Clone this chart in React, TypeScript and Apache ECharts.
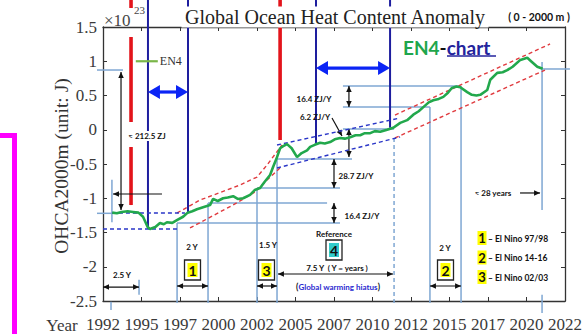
import { useEffect, useRef } from "react";
import * as echarts from "echarts";

// EN4 ocean heat content anomaly, 0–2000 m (units of 1e23 J)
const en4: [number, number][] = [
  [1993.1, -1.21], [1993.4, -1.22], [1993.7, -1.2], [1994.1, -1.19], [1994.45, -1.2], [1994.8, -1.21],
  [1995.1, -1.27], [1995.4, -1.42], [1995.55, -1.45], [1995.9, -1.42], [1996.2, -1.36], [1996.45, -1.38],
  [1996.65, -1.35], [1997.0, -1.36], [1997.3, -1.32], [1997.7, -1.27], [1998.0, -1.21], [1998.3, -1.19],
  [1998.6, -1.16], [1999.0, -1.13], [1999.45, -1.1], [1999.65, -1.01], [1999.95, -1.04], [2000.3, -1.0],
  [2000.6, -0.99], [2000.95, -0.97], [2001.25, -1.01], [2001.6, -1.0], [2002.05, -0.95], [2002.35, -0.88],
  [2002.7, -0.85], [2003.0, -0.76], [2003.35, -0.66], [2003.55, -0.54], [2003.8, -0.4], [2004.0, -0.27],
  [2004.2, -0.24], [2004.45, -0.21], [2004.75, -0.27], [2005.1, -0.4], [2005.4, -0.34], [2005.75, -0.3],
  [2005.95, -0.25], [2006.25, -0.22], [2006.6, -0.19], [2006.9, -0.2], [2007.25, -0.18], [2007.55, -0.14],
  [2007.9, -0.12], [2008.2, -0.13], [2008.55, -0.11], [2008.9, -0.08], [2009.2, -0.08], [2009.5, -0.05],
  [2009.85, -0.05], [2010.15, -0.02], [2010.5, -0.03], [2010.95, 0.0], [2011.35, 0.03], [2011.8, 0.1],
  [2012.25, 0.14], [2012.65, 0.22], [2013.0, 0.27], [2013.3, 0.33], [2013.65, 0.4], [2013.95, 0.43],
  [2014.3, 0.45], [2014.6, 0.48], [2014.9, 0.54], [2015.15, 0.61], [2015.45, 0.63], [2015.7, 0.62],
  [2016.15, 0.55], [2016.45, 0.51], [2016.75, 0.5], [2017.0, 0.51], [2017.45, 0.58], [2017.65, 0.73],
  [2018.1, 0.83], [2018.45, 0.84], [2018.75, 0.87], [2019.1, 0.92], [2019.6, 1.02], [2020.05, 1.05],
  [2020.35, 0.99], [2020.7, 0.92], [2021.05, 0.89],
];

// axis ranges
const xRange = [1992.5, 2022.5];
const xStep = 2.5;
const yRange = [-2.5, 1.5];
const yStep = 0.5;
const canvasTop = 1.894; // value at the upper edge of the canvas

// trend fits (red = fast warming, blue = hiatus / baseline)
const trendRed: [number, number][][] = [
  [[1997.31, -1.215], [1998.8, -1.026], [2001.4, -0.807], [2002.5, -0.69], [2003.15, -0.515], [2004.12, -0.223]],
  [[1998.15, -1.434], [2000.94, -1.099], [2002.37, -0.909], [2003.15, -0.734], [2003.99, -0.558]],
  [[2011.46, 0.215], [2021.53, 1.252]],
  [[2011.46, -0.12], [2021.2, 0.872]],
];
const trendBlue: [number, number][][] = [
  [[2003.8, -0.223], [2011.79, 0.172]],
  [[2003.8, -0.558], [2011.79, -0.106]],
  [[1993.08, -1.215], [1997.82, -1.215]],
  [[1992.5, -1.449], [1997.5, -1.449]],
];

// red El Nino markers: year and visible value spans
const redMarks: { x: number; spans: [number, number][] }[] = [
  { x: 1994.32, spans: [[canvasTop, 1.777], [1.354, 0.113], [-0.252, -1.099]] },
  { x: 2004.0, spans: [[canvasTop, -0.15]] },
];
// navy period boundaries: [year, bottom value]
const navyMarks: [number, number][] = [
  [1995.42, -1.449], [1998.02, -1.2], [2006.33, -0.193], [2011.14, 0.03],
];
// bright blue double arrows: [from year, to year, value]
const blueSpans: [number, number, number][] = [
  [1995.42, 1998.02, 0.551], [2006.33, 2011.14, 0.901],
];
// steel-blue reference lines: [x1, y1, x2, y2]
const guideLines: [number, number, number, number][] = [
  [1992.11, 0.872, 1993.8, 0.872],
  [1993.08, -0.73, 1993.08, -1.35],
  [1992.11, -1.22, 1993.08, -1.22],
  [1997.31, -1.361, 1997.31, -2.53],
  [1997.31, -1.361, 2007.89, -1.361],
  [1999.32, -1.069, 1999.32, -2.53],
  [1999.32, -1.069, 2007.05, -1.069],
  [2002.5, -0.85, 2002.5, -2.53],
  [2002.5, -0.85, 2007.89, -0.85],
  [2003.8, -0.427, 2003.8, -2.53],
  [2003.8, -0.427, 2008.67, -0.427],
  [2008.08, 0.011, 2011.4, 0.011],
  [2008.08, 0.332, 2013.73, 0.332],
  [2013.73, 0.332, 2013.73, -2.53],
  [2008.08, 0.639, 2015.75, 0.639],
  [2015.75, 0.639, 2015.75, -2.53],
  [2021.01, 0.989, 2021.01, -1.172],
  [2021.01, 0.887, 2022.82, 0.887],
  [2021.01, -2.41, 2021.01, -2.675],
  [1993.02, -2.51, 1993.02, -2.63],
  [1994.84, -2.19, 1994.84, -2.41],
];
const guideDashed: [number, number, number, number][] = [[2011.4, -0.12, 2011.4, -2.53]];
// black measurement arrows: [x1, y1, x2, y2, heads]
const measureArrows: [number, number, number, number, "both" | "end"][] = [
  [1993.67, 0.843, 1993.67, -1.172, "both"],
  [1996.33, -0.938, 1993.15, -0.938, "end"],
  [2008.47, 0.639, 2008.47, 0.332, "both"],
  [2008.47, 0.011, 2008.47, -0.398, "both"],
  [2007.37, 0.172, 2008.02, -0.091, "end"],
  [2007.5, -0.427, 2007.5, -0.85, "both"],
  [2007.5, -1.069, 2007.5, -1.361, "both"],
  [2019.58, -0.923, 2020.88, -0.923, "end"],
  [1992.5, -2.296, 1994.84, -2.296, "both"],
  [1997.31, -2.281, 1999.32, -2.281, "both"],
  [2002.5, -2.281, 2003.8, -2.281, "both"],
  [2003.86, -2.106, 2011.33, -2.106, "both"],
  [2013.73, -2.281, 2015.75, -2.281, "both"],
];

const legendNino = [
  { n: "1", t: "El Nino 97/98" },
  { n: "2", t: "El Nino 14-16" },
  { n: "3", t: "El Nino 02/03" },
];

const SERIF = "'Liberation Serif', 'DejaVu Serif', serif";
const SANS = "Lato, 'Noto Sans', sans-serif";

export default function App() {
  const ref = useRef<HTMLDivElement>(null);

  useEffect(() => {
    const chart = echarts.init(ref.current!, null, { renderer: "svg" });
    const axisLine = { show: true, onZero: false, lineStyle: { color: "#333", width: 1.3 } };
    const tick = { show: true, inside: true, length: 4, lineStyle: { color: "#333", width: 1 } };
    const dashed = (pts: [number, number][], color: string) => ({
      type: "line",
      data: pts,
      symbol: "none",
      clip: false,
      silent: true,
      z: 3,
      lineStyle: { color, width: 1.4, type: [4, 3] },
    });

    chart.setOption({
      animation: false,
      backgroundColor: "#fff",
      grid: { left: 103, right: 21, top: 27, bottom: 33, show: false },
      xAxis: [
        {
          type: "value", min: xRange[0], max: xRange[1], interval: xStep, position: "bottom",
          axisLine, axisTick: tick, splitLine: { show: false },
          axisLabel: {
            formatter: (v: number) => String(Math.floor(v)),
            margin: 15, color: "#3a3a3a", fontFamily: SERIF, fontSize: 17,
            showMinLabel: true, showMaxLabel: true,
          },
        },
        {
          type: "value", min: xRange[0], max: xRange[1], interval: xStep, position: "top",
          axisLine, axisTick: tick, splitLine: { show: false }, axisLabel: { show: false },
        },
      ],
      yAxis: [
        {
          type: "value", min: yRange[0], max: yRange[1], interval: yStep, position: "left",
          axisLine, axisTick: tick, splitLine: { show: false },
          axisLabel: { margin: 6, color: "#3a3a3a", fontFamily: SERIF, fontSize: 17 },
        },
        {
          type: "value", min: yRange[0], max: yRange[1], interval: yStep, position: "right",
          axisLine, axisTick: tick, splitLine: { show: false }, axisLabel: { show: false },
        },
      ],
      series: [
        ...trendRed.map((t) => dashed(t, "#e03a3e")),
        ...trendBlue.map((t) => dashed(t, "#2a36c8")),
        {
          type: "line", name: "EN4", data: en4, symbol: "none", silent: true, z: 5,
          lineStyle: { color: "#22a84c", width: 2.6 },
        },
      ],
    });

    const P = (x: number, y: number) =>
      chart.convertToPixel({ xAxisIndex: 0, yAxisIndex: 0 }, [x, y]) as number[];
    const g: any[] = [];
    const seg = (a: number[], b: number[], stroke: string, lineWidth: number, lineDash?: number[], z = 1) =>
      g.push({
        type: "line", silent: true, z,
        shape: { x1: a[0], y1: a[1], x2: b[0], y2: b[1] },
        style: { stroke, lineWidth, lineDash },
      });
    const head = (tip: number[], from: number[], fill: string, len: number, w: number, z = 1) => {
      const dx = tip[0] - from[0];
      const dy = tip[1] - from[1];
      const d = Math.hypot(dx, dy) || 1;
      const ux = dx / d, uy = dy / d;
      const bx = tip[0] - ux * len, by = tip[1] - uy * len;
      g.push({
        type: "polygon", silent: true, z,
        shape: { points: [[tip[0], tip[1]], [bx - (uy * w) / 2, by + (ux * w) / 2], [bx + (uy * w) / 2, by - (ux * w) / 2]] },
        style: { fill },
      });
    };
    const text = (x: number, y: number, s: string, opts: any = {}, z = 4) =>
      g.push({
        type: "text", x, y, silent: true, z,
        style: {
          text: s, align: "center", verticalAlign: "middle",
          fill: "#111", fontFamily: SANS, fontWeight: "bold", fontSize: 8, ...opts,
        },
      });

    // steel-blue guides
    guideLines.forEach(([x1, y1, x2, y2]) => seg(P(x1, y1), P(x2, y2), "#7fa7d3", 1.5));
    guideDashed.forEach(([x1, y1, x2, y2]) => seg(P(x1, y1), P(x2, y2), "#7fa7d3", 1.5, [4, 3]));

    // text labels of the measurements
    text(147, 136, "≈ 212.5 ZJ", { backgroundColor: "#fff", padding: [1, 1] });
    text(314, 99, "16.4 ZJ/Y");
    text(315, 117, "6.2 ZJ/Y");
    text(356, 176, "28.7 ZJ/Y");
    text(362, 216, "16.4 ZJ/Y");
    text(493, 193, "≈ 28 years");
    text(122, 275, "2.5 Y");
    text(192, 247, "2 Y");
    text(268, 245, "1.5 Y");
    text(445, 248, "2 Y");
    text(334, 234, "Reference");
    text(337, 268, "7.5 Y  ( Y = years )");
    g.push({
      type: "text", x: 338, y: 287, silent: true, z: 4,
      style: {
        text: "{p|(}{b|Global warming hiatus}{p|)}", align: "center", verticalAlign: "middle",
        rich: {
          p: { fill: "#111", color: "#111", fontFamily: SANS, fontWeight: "bold", fontSize: 8.5 },
          b: { fill: "#2b2bd0", color: "#2b2bd0", fontFamily: SANS, fontWeight: "bold", fontSize: 8 },
        },
      },
    });

    // red El Nino markers
    redMarks.forEach((m) => m.spans.forEach(([a, b]) => seg(P(m.x, a), P(m.x, b), "#e3141b", 3.6, undefined, 2)));
    // navy boundaries
    navyMarks.forEach(([x, bottom]) => seg(P(x, canvasTop), P(x, bottom), "#1e1e9e", 2, undefined, 2));
    // bright blue period arrows
    blueSpans.forEach(([a, b, v]) => {
      const p1 = P(a, v), p2 = P(b, v);
      seg([p1[0] + 8, p1[1]], [p2[0] - 8, p2[1]], "#0b24f5", 3.2, undefined, 3);
      head(p1, p2, "#0b24f5", 12, 14, 3);
      head(p2, p1, "#0b24f5", 12, 14, 3);
    });
    // black measurement arrows
    measureArrows.forEach(([x1, y1, x2, y2, h]) => {
      const a = P(x1, y1), b = P(x2, y2);
      seg(a, b, "#111", 1.2, undefined, 3);
      head(b, a, "#111", 6, 5.5, 3);
      if (h === "both") head(a, b, "#111", 6, 5.5, 3);
    });

    // numbered event boxes
    const box = (n: string, cx: number, cy: number, hl: string) => {
      g.push({
        type: "rect", silent: true, z: 4,
        shape: { x: cx - 8, y: cy - 10, width: 16, height: 20 },
        style: { fill: "#fff", stroke: "#222", lineWidth: 1.3 },
      });
      g.push({
        type: "rect", silent: true, z: 4,
        shape: { x: cx - 5, y: cy - 7, width: 10, height: 14 },
        style: { fill: hl },
      });
      text(cx, cy + 0.5, n, { fontSize: 14, fill: "#111" }, 5);
    };
    box("1", 192.5, 270, "#ffff00");
    box("3", 266.5, 270, "#ffff00");
    box("4", 334, 250, "#33cccc");
    box("2", 445.5, 270, "#ffff00");

    // El Nino legend
    legendNino.forEach((e, i) => {
      const y = 238 + i * 19.5;
      g.push({
        type: "rect", silent: true, z: 4,
        shape: { x: 477.5, y: y - 7, width: 9, height: 14 },
        style: { fill: "#ffff00" },
      });
      text(482, y, e.n, { fontSize: 13 }, 5);
      text(488, y + 0.5, "– " + e.t, { align: "left", fontSize: 8.5 }, 5);
    });

    // EN4 line key
    const k = P(1994.5, 1.0);
    seg([k[0] + 2, k[1]], [k[0] + 24, k[1]], "#7ab648", 2.2, undefined, 3);
    text(k[0] + 26, k[1], "EN4", { align: "left", fontFamily: SERIF, fontWeight: "normal", fontSize: 12, fill: "#333" });

    // headings
    g.push({
      type: "text", x: 335, y: 17, silent: true, z: 6,
      style: {
        text: "Global Ocean Heat Content Anomaly", align: "center", verticalAlign: "middle",
        fill: "#222", fontFamily: SERIF, fontSize: 20, backgroundColor: "#fff", padding: [1, 3, 0, 3],
      },
    });
    text(539, 17, "( 0 - 2000 m )", { fontSize: 10.5, fill: "#111" }, 6);
    g.push({
      type: "text", x: 403, y: 47, silent: true, z: 6,
      style: {
        text: "{g|EN4}{d|-}{b|chart}", align: "left", verticalAlign: "middle",
        rich: {
          g: { fill: "#1fa64c", color: "#1fa64c", fontFamily: SANS, fontWeight: "bold", fontSize: 19 },
          d: { fill: "#111", color: "#111", fontFamily: SANS, fontWeight: "bold", fontSize: 19 },
          b: { fill: "#23239c", color: "#23239c", fontFamily: SANS, fontWeight: "bold", fontSize: 19 },
        },
      },
    });
    seg([447, 56], [496, 56], "#23239c", 1.5, undefined, 6);
    text(104, 20, "×10", { align: "left", fontFamily: SERIF, fontWeight: "normal", fontSize: 17, fill: "#444" }, 6);
    text(134, 10, "23", { align: "left", fontFamily: SERIF, fontWeight: "normal", fontSize: 11, fill: "#444" }, 6);
    g.push({
      type: "text", x: 61, y: 166, rotation: Math.PI / 2, silent: true, z: 6,
      style: {
        text: "OHCA2000m (unit: J)", align: "center", verticalAlign: "middle",
        fill: "#333", fontFamily: SERIF, fontSize: 19.5,
      },
    });
    text(62, 325, "Year", { fontFamily: SERIF, fontWeight: "normal", fontSize: 17, fill: "#3a3a3a" }, 6);

    // magenta bracket at the left edge
    g.push({
      type: "polyline", silent: true, z: 6,
      shape: { points: [[0, 135.5], [14.5, 135.5], [14.5, 334]] },
      style: { stroke: "#ff00ff", lineWidth: 5, fill: "none" },
    });

    chart.setOption({ graphic: { elements: g } });
    return () => chart.dispose();
  }, []);

  return (
    <div
      ref={ref}
      style={{ position: "fixed", left: 0, top: 0, width: 586, height: 334, background: "#fff" }}
    />
  );
}
